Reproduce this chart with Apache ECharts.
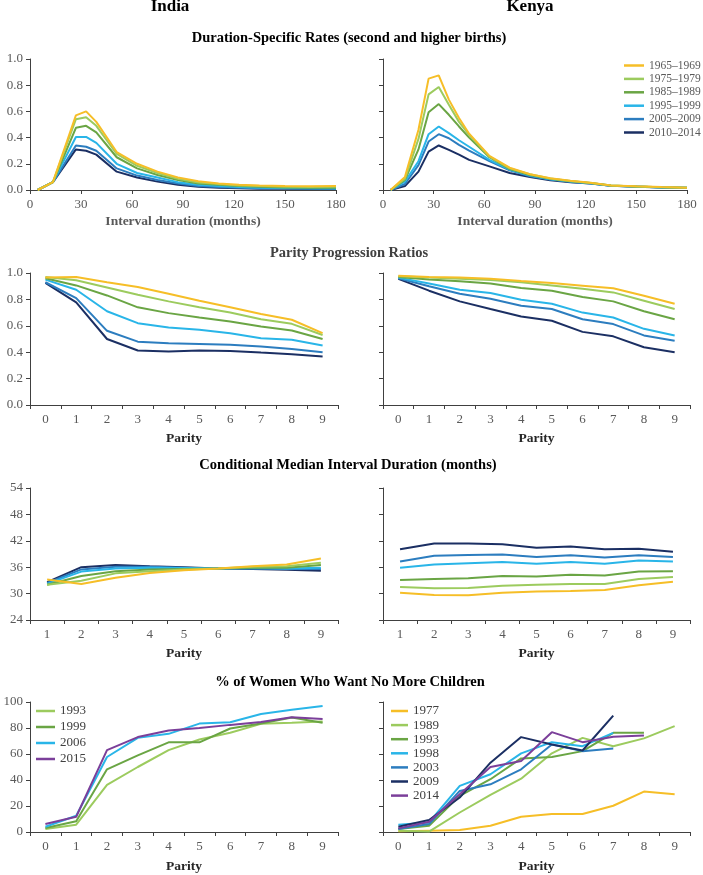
<!DOCTYPE html>
<html><head><meta charset="utf-8">
<script src="https://cdn.jsdelivr.net/npm/echarts@6/dist/echarts.min.js"></script>
<style>html,body{margin:0;padding:0;background:#fff}#c{width:703px;height:875px}</style>
</head><body><div id="c"></div>
<script>
// ---------- DATA ----------
const cohortNames = ['1965–1969','1975–1979','1985–1989','1995–1999','2005–2009','2010–2014'];
// Duration-specific rates
const monthsIndia = [4.5, 13.5, 27, 33, 39, 51, 63, 75, 87, 99, 111, 123, 135, 150, 165, 180];
const dsrIndia6569 = [0, 0.06, 0.57, 0.60, 0.52, 0.29, 0.20, 0.14, 0.095, 0.066, 0.05, 0.04, 0.035, 0.03, 0.028, 0.03];
const dsrIndia7579 = [0, 0.06, 0.54, 0.555, 0.49, 0.275, 0.185, 0.13, 0.085, 0.058, 0.045, 0.035, 0.03, 0.025, 0.023, 0.025];
const dsrIndia8589 = [0, 0.06, 0.475, 0.49, 0.44, 0.25, 0.165, 0.115, 0.077, 0.05, 0.04, 0.03, 0.025, 0.02, 0.018, 0.018];
const dsrIndia9599 = [0, 0.06, 0.405, 0.405, 0.36, 0.20, 0.13, 0.095, 0.06, 0.04, 0.03, 0.022, 0.018, 0.015, 0.013, 0.012];
const dsrIndia0509 = [0, 0.06, 0.34, 0.33, 0.30, 0.165, 0.11, 0.077, 0.05, 0.03, 0.022, 0.017, 0.014, 0.012, 0.01, 0.01];
const dsrIndia1014 = [0, 0.06, 0.31, 0.30, 0.27, 0.14, 0.095, 0.064, 0.04, 0.025, 0.018, 0.013, 0.01, 0.01, 0.008, 0.008];

const monthsKenya = [4.5, 13, 21, 27, 33, 39, 45, 51, 63, 75, 87, 99, 111, 123, 135, 150, 165, 180];
const dsrKenya6569 = [0, 0.10, 0.46, 0.85, 0.875, 0.69, 0.55, 0.43, 0.26, 0.17, 0.12, 0.09, 0.07, 0.055, 0.035, 0.028, 0.022, 0.018];
const dsrKenya7579 = [0, 0.085, 0.39, 0.73, 0.786, 0.65, 0.52, 0.42, 0.255, 0.165, 0.12, 0.088, 0.068, 0.054, 0.035, 0.027, 0.021, 0.018];
const dsrKenya8589 = [0, 0.077, 0.31, 0.594, 0.656, 0.574, 0.485, 0.40, 0.25, 0.16, 0.115, 0.085, 0.066, 0.053, 0.034, 0.027, 0.021, 0.018];
const dsrKenya9599 = [0, 0.064, 0.22, 0.426, 0.485, 0.434, 0.38, 0.33, 0.23, 0.155, 0.11, 0.082, 0.064, 0.052, 0.033, 0.026, 0.02, 0.017];
const dsrKenya0509 = [0, 0.046, 0.19, 0.37, 0.426, 0.395, 0.344, 0.30, 0.22, 0.15, 0.105, 0.08, 0.062, 0.05, 0.032, 0.026, 0.02, 0.017];
const dsrKenya1014 = [0, 0.03, 0.14, 0.293, 0.34, 0.306, 0.27, 0.23, 0.18, 0.13, 0.10, 0.075, 0.06, 0.05, 0.032, 0.025, 0.02, 0.016];

// Parity progression ratios
const parity0to9 = ['0','1','2','3','4','5','6','7','8','9'];
const pprIndia6569 = [0.965, 0.97, 0.93, 0.894, 0.843, 0.79, 0.74, 0.69, 0.646, 0.544];
const pprIndia7579 = [0.97, 0.945, 0.89, 0.835, 0.785, 0.74, 0.70, 0.65, 0.615, 0.53];
const pprIndia8589 = [0.96, 0.906, 0.83, 0.74, 0.696, 0.663, 0.633, 0.595, 0.565, 0.50];
const pprIndia9599 = [0.95, 0.873, 0.71, 0.62, 0.587, 0.57, 0.544, 0.506, 0.494, 0.45];
const pprIndia0509 = [0.93, 0.81, 0.562, 0.48, 0.468, 0.463, 0.456, 0.443, 0.425, 0.40];
const pprIndia1014 = [0.925, 0.777, 0.50, 0.413, 0.405, 0.413, 0.41, 0.397, 0.385, 0.367];

const pprKenya6569 = [0.98, 0.97, 0.965, 0.957, 0.94, 0.924, 0.904, 0.884, 0.828, 0.767];
const pprKenya7579 = [0.975, 0.965, 0.957, 0.947, 0.93, 0.906, 0.88, 0.853, 0.79, 0.727];
const pprKenya8589 = [0.97, 0.95, 0.937, 0.92, 0.886, 0.866, 0.818, 0.785, 0.71, 0.65];
const pprKenya9599 = [0.965, 0.92, 0.873, 0.848, 0.797, 0.767, 0.70, 0.663, 0.577, 0.527];
const pprKenya0509 = [0.96, 0.90, 0.843, 0.805, 0.752, 0.727, 0.65, 0.613, 0.527, 0.486];
const pprKenya1014 = [0.955, 0.866, 0.785, 0.727, 0.67, 0.638, 0.554, 0.52, 0.438, 0.40];

// Conditional median interval duration (months)
const parity1to9 = ['1','2','3','4','5','6','7','8','9'];
const cmidIndia6569 = [33.2, 32.2, 33.6, 34.7, 35.3, 35.7, 36.2, 36.6, 38.0];
const cmidIndia7579 = [32.0, 32.9, 34.6, 35.1, 35.5, 35.7, 36.1, 36.2, 37.0];
const cmidIndia8589 = [32.0, 34.0, 35.1, 35.5, 35.6, 35.7, 35.9, 35.9, 36.5];
const cmidIndia9599 = [32.2, 35.0, 35.7, 35.9, 35.8, 35.7, 35.8, 35.7, 35.9];
const cmidIndia0509 = [32.4, 35.5, 36.1, 36.1, 35.9, 35.7, 35.7, 35.6, 35.6];
const cmidIndia1014 = [32.6, 36.0, 36.5, 36.2, 36.0, 35.7, 35.6, 35.4, 35.2];

const cmidKenya6569 = [30.2, 29.7, 29.6, 30.2, 30.5, 30.6, 30.8, 31.9, 32.7];
const cmidKenya7579 = [31.5, 31.2, 31.3, 31.8, 32.0, 32.2, 32.2, 33.3, 33.8];
const cmidKenya8589 = [33.1, 33.3, 33.5, 34.0, 33.9, 34.3, 34.1, 35.0, 35.1];
const cmidKenya9599 = [35.9, 36.6, 36.9, 37.2, 36.8, 37.2, 36.8, 37.5, 37.3];
const cmidKenya0509 = [37.3, 38.6, 38.8, 38.9, 38.3, 38.7, 38.2, 38.7, 38.3];
const cmidKenya1014 = [40.1, 41.4, 41.4, 41.2, 40.4, 40.7, 40.1, 40.2, 39.5];

// % of women who want no more children
const wantIndiaYears = ['1993','1999','2006','2015'];
const wantIndia1993 = [2.3, 5.6, 36.2, 50, 63, 71.2, 76.3, 83.2, 84, 85];
const wantIndia1999 = [3, 8.2, 48.2, 59, 69, 69, 79.6, 83.4, 88, 84];
const wantIndia2006 = [4, 12.5, 57.7, 72.4, 75.5, 83.4, 84.4, 90.8, 94, 97];
const wantIndia2015 = [6.1, 11.7, 63, 73, 78, 80, 82.4, 84.7, 88.3, 87];

const wantKenyaYears = ['1977','1989','1993','1998','2003','2009','2014'];
const wantKenya1977 = [0.5, 1, 1.5, 4.8, 11.7, 13.8, 13.8, 20.2, 31.1, 29.1];
const wantKenya1989 = [1, 0.3, 15, 28.6, 41, 60.5, 72.4, 66, 72, 81.4];
const wantKenya1993 = [2.3, 4.8, 27.8, 40.6, 56.6, 57.7, 62.2, 76.3, 76.3];
const wantKenya1998 = [5.6, 7.4, 35.5, 44.4, 60.5, 69.1, 66, 76.3];
const wantKenya2003 = [2.3, 6.1, 31.6, 36.7, 48.2, 67.3, 62.2, 64.3];
const wantKenya2009 = [4, 9.2, 26.5, 53.3, 73, 67.3, 62.7, 89.5];
const wantKenya2014 = [2.8, 7.9, 29, 50, 54.6, 76.8, 69.1, 73.2, 74.2];

// ---------- STYLE ----------
const C = {yel:'#F6BE27', lgr:'#9CCB5E', grn:'#6AA544', lbl:'#29B5E8', mbl:'#2C7DBF', nav:'#1B2F63', pur:'#7B3F9A'};
const cohortColors = [C.yel, C.lgr, C.grn, C.lbl, C.mbl, C.nav];
const FONT = '"Liberation Serif", "Times New Roman", serif';
const AX = '#404040';
const LBL = '#595959';

const grids = [
  {left:30, top:59, width:306, height:131},
  {left:383, top:59, width:304, height:131},
  {left:30, top:273, width:308, height:132},
  {left:383, top:273, width:307, height:132},
  {left:30, top:488, width:308, height:132},
  {left:383, top:488, width:307, height:132},
  {left:30, top:702, width:308, height:131},
  {left:383, top:702, width:307, height:131}
];

function baseAxisStyle() {
  return {
    axisLine:{show:true, lineStyle:{color:AX, width:1}},
    axisTick:{show:true, length:4, lineStyle:{color:AX}},
    splitLine:{show:false},
    axisLabel:{color:LBL, fontSize:13, fontFamily:FONT, margin:8}
  };
}
function nameStyle(color){ return {color:color, fontSize:13.5, fontWeight:'bold', fontFamily:FONT}; }

const xAxes = [];
const yAxes = [];
for (let i = 0; i < 8; i++) {
  const row = Math.floor(i/2);
  let x = baseAxisStyle();
  x.gridIndex = i;
  if (row === 0) {
    Object.assign(x, {type:'value', min:0, max:180, interval:30, name:'Interval duration (months)',
      nameLocation:'middle', nameGap:25, nameTextStyle:nameStyle(LBL)});
  } else {
    Object.assign(x, {type:'category', boundaryGap:true, data: row === 2 ? parity1to9 : parity0to9,
      name:'Parity', nameLocation:'middle', nameGap: row === 3 ? 28 : 27, nameTextStyle:nameStyle('#262626')});
  }
  xAxes.push(x);
  let y = baseAxisStyle();
  y.gridIndex = i;
  y.type = 'value';
  if (row === 0 || row === 1) Object.assign(y, {min:0, max:1, interval:0.2});
  if (row === 2) Object.assign(y, {min:24, max:54, interval:6});
  if (row === 3) Object.assign(y, {min:0, max:100, interval:20});
  y.axisLabel = Object.assign({}, y.axisLabel, {show: i % 2 === 0, margin:7,
    formatter: (row <= 1) ? (v => v.toFixed(1)) : (v => String(v))});
  yAxes.push(y);
}

const series = [];
function addLine(name, idx, data, color) {
  series.push({type:'line', name:name, xAxisIndex:idx, yAxisIndex:idx, data:data,
    symbol:'none', showSymbol:false, lineStyle:{width:2, color:color}, itemStyle:{color:color},
    emphasis:{disabled:true}, animation:false});
}
function pairs(xs, ys){ return ys.map((v,k)=>[xs[k], v]); }

const dsrIndia = [dsrIndia6569, dsrIndia7579, dsrIndia8589, dsrIndia9599, dsrIndia0509, dsrIndia1014];
const dsrKenya = [dsrKenya6569, dsrKenya7579, dsrKenya8589, dsrKenya9599, dsrKenya0509, dsrKenya1014];
const pprIndia = [pprIndia6569, pprIndia7579, pprIndia8589, pprIndia9599, pprIndia0509, pprIndia1014];
const pprKenya = [pprKenya6569, pprKenya7579, pprKenya8589, pprKenya9599, pprKenya0509, pprKenya1014];
const cmidIndia = [cmidIndia6569, cmidIndia7579, cmidIndia8589, cmidIndia9599, cmidIndia0509, cmidIndia1014];
const cmidKenya = [cmidKenya6569, cmidKenya7579, cmidKenya8589, cmidKenya9599, cmidKenya0509, cmidKenya1014];
for (let k = 5; k >= 0; k--) {
  addLine(cohortNames[k], 0, pairs(monthsIndia, dsrIndia[k]), cohortColors[k]);
  addLine(cohortNames[k], 1, pairs(monthsKenya, dsrKenya[k]), cohortColors[k]);
  addLine(cohortNames[k], 2, pprIndia[k], cohortColors[k]);
  addLine(cohortNames[k], 3, pprKenya[k], cohortColors[k]);
  addLine(cohortNames[k], 4, cmidIndia[k], cohortColors[k]);
  addLine(cohortNames[k], 5, cmidKenya[k], cohortColors[k]);
}
const wantIndia = [wantIndia1993, wantIndia1999, wantIndia2006, wantIndia2015];
const wantIndiaColors = [C.lgr, C.grn, C.lbl, C.pur];
wantIndiaYears.forEach((yr,k)=> addLine('IN ' + yr, 6, wantIndia[k], wantIndiaColors[k]));
const wantKenya = [wantKenya1977, wantKenya1989, wantKenya1993, wantKenya1998, wantKenya2003, wantKenya2009, wantKenya2014];
const wantKenyaColors = [C.yel, C.lgr, C.grn, C.lbl, C.mbl, C.nav, C.pur];
wantKenyaYears.forEach((yr,k)=> addLine('KE ' + yr, 7, wantKenya[k], wantKenyaColors[k]));

function txt(x, y, text, size, weight, color) {
  return {type:'text', x:x, y:y, silent:true, style:{text:text, fill:color, font: weight + ' ' + size + 'px ' + FONT,
    align:'center', verticalAlign:'middle', textAlign:'center', textVerticalAlign:'middle'}};
}

const option = {
  backgroundColor:'#fff',
  animation:false,
  grid: grids,
  xAxis: xAxes,
  yAxis: yAxes,
  series: series,
  legend: [
    {data: cohortNames, orient:'vertical', left:624, top:59, padding:0, icon:'rect', itemWidth:20, itemHeight:2.5,
      itemGap:0.4, selectedMode:false,
      textStyle:{color:LBL, fontSize:11.5, fontFamily:FONT, lineHeight:13}},
    {data: wantIndiaYears.map(y=>'IN '+y), orient:'vertical', left:36, top:703, padding:0, icon:'rect', itemWidth:19, itemHeight:2.5,
      itemGap:0, selectedMode:false, formatter: n => n.slice(3),
      textStyle:{color:'#404040', fontSize:13, fontFamily:FONT, lineHeight:16}},
    {data: wantKenyaYears.map(y=>'KE '+y), orient:'vertical', left:391, top:704, padding:0, icon:'rect', itemWidth:17, itemHeight:2.5,
      itemGap:0.1, selectedMode:false, formatter: n => n.slice(3),
      textStyle:{color:'#404040', fontSize:13, fontFamily:FONT, lineHeight:14}}
  ],
  graphic: [
    txt(170, 7, 'India', 17, 'bold', '#000'),
    txt(530, 7, 'Kenya', 17, 'bold', '#000'),
    txt(349, 38, 'Duration-Specific Rates (second and higher births)', 14.5, 'bold', '#000'),
    txt(349, 253, 'Parity Progression Ratios', 14.5, 'bold', '#404040'),
    txt(348, 465, 'Conditional Median Interval Duration (months)', 14.5, 'bold', '#000'),
    txt(350, 682, '% of Women Who Want No More Children', 14.5, 'bold', '#000')
  ]
};
const chart = echarts.init(document.getElementById('c'), null, {renderer:'canvas'});
chart.setOption(option);
</script>
</body></html>
